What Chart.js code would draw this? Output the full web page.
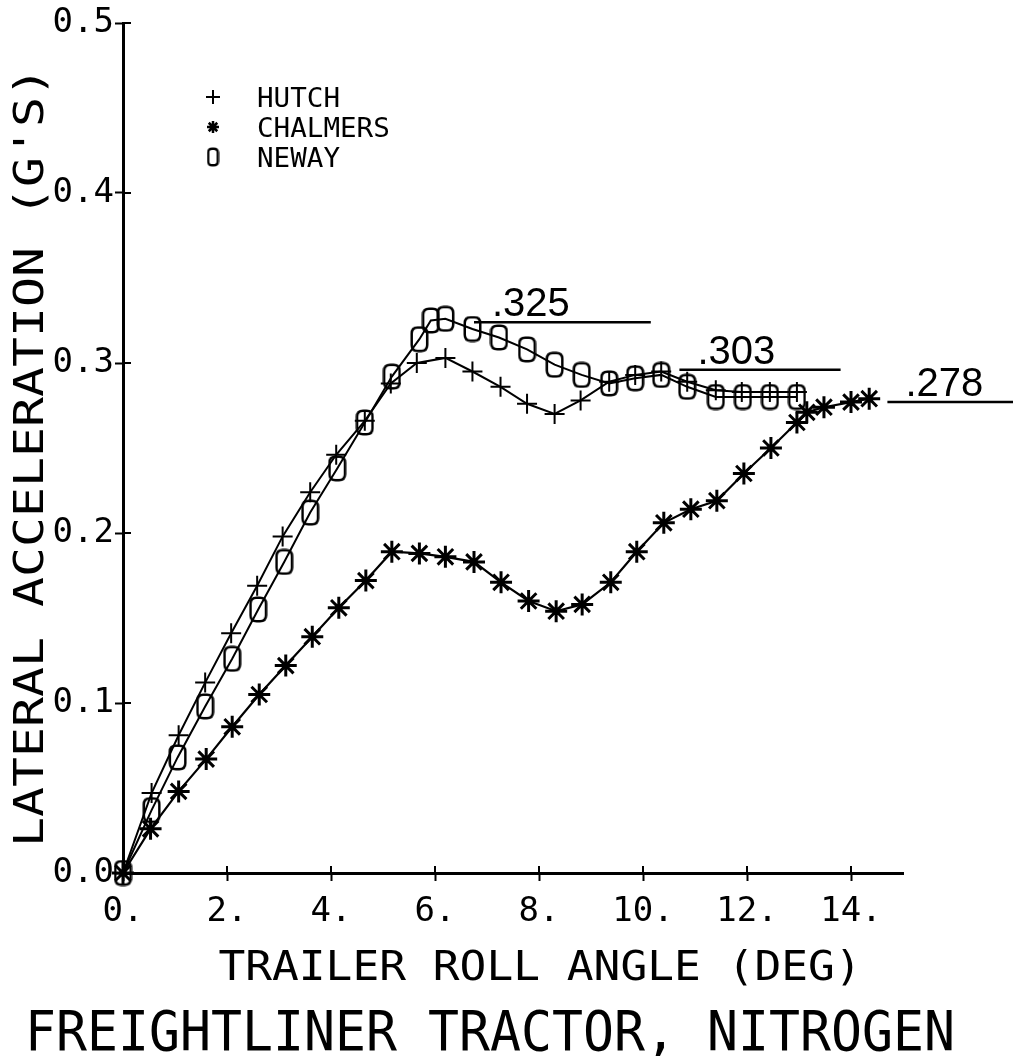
<!DOCTYPE html>
<html><head><meta charset="utf-8">
<script src="https://cdn.jsdelivr.net/npm/chart.js@4.4.1/dist/chart.umd.min.js"></script>
<style>html,body{margin:0;padding:0;background:#fff;}canvas{display:block;}</style>
</head><body>
<canvas id="c" width="1013" height="1056"></canvas>
<script>
// ---------- data ----------
const seriesNames = ['HUTCH', 'CHALMERS', 'NEWAY'];

const hutchX = [0, 0.55, 1.07, 1.58, 2.08, 2.58, 3.07, 3.6, 4.1, 4.65, 5.15, 5.65, 6.2, 6.72, 7.26, 7.77, 8.3, 8.8, 9.35, 9.85, 10.35, 10.85, 11.4, 11.9, 12.44, 12.96];
const hutchY = [0, 0.047, 0.081, 0.112, 0.141, 0.169, 0.198, 0.224, 0.246, 0.266, 0.288, 0.300, 0.303, 0.295, 0.286, 0.276, 0.270, 0.278, 0.289, 0.293, 0.295, 0.289, 0.284, 0.283, 0.283, 0.283];

const chalmersX = [0, 0.53, 1.07, 1.6, 2.1, 2.62, 3.13, 3.64, 4.15, 4.67, 5.17, 5.7, 6.2, 6.75, 7.27, 7.8, 8.33, 8.83, 9.38, 9.88, 10.4, 10.92, 11.42, 11.94, 12.46, 12.96, 13.15, 13.48, 14.0, 14.35];
const chalmersY = [0, 0.026, 0.048, 0.067, 0.086, 0.105, 0.122, 0.139, 0.156, 0.172, 0.189, 0.188, 0.186, 0.183, 0.171, 0.160, 0.154, 0.158, 0.171, 0.189, 0.206, 0.214, 0.219, 0.235, 0.250, 0.265, 0.271, 0.274, 0.277, 0.279];

const newayX = [0, 0.55, 1.05, 1.58, 2.1, 2.6, 3.1, 3.6, 4.12, 4.65, 5.17, 5.7, 5.92, 6.2, 6.72, 7.23, 7.77, 8.3, 8.82, 9.35, 9.85, 10.35, 10.85, 11.4, 11.92, 12.44, 12.96];
const newayY = [0, 0.037, 0.068, 0.098, 0.126, 0.155, 0.183, 0.212, 0.238, 0.265, 0.292, 0.314, 0.325, 0.326, 0.320, 0.315, 0.308, 0.299, 0.293, 0.288, 0.291, 0.293, 0.286, 0.280, 0.280, 0.280, 0.280];

const xTickValues = [0, 2, 4, 6, 8, 10, 12, 14];
const xTickLabels = ['0.', '2.', '4.', '6.', '8.', '10.', '12.', '14.'];
const yTickValues = [0, 0.1, 0.2, 0.3, 0.4, 0.5];
const yTickLabels = ['0.0', '0.1', '0.2', '0.3', '0.4', '0.5'];

const xTitle = 'TRAILER ROLL ANGLE (DEG)';
const yTitle = "LATERAL ACCELERATION (G'S)";
const caption = 'FREIGHTLINER TRACTOR, NITROGEN';

const noteLabels = ['.325', '.303', '.278'];
const noteValues = [0.324, 0.296, 0.277];
const noteFrom = [6.75, 10.7, 14.7];
const noteTo = [10.15, 13.8, 17.3];

// ---------- helpers ----------
const MONO = '"DejaVu Sans Mono", monospace';
function pts(xs, ys) { return xs.map((x, i) => ({ x: x, y: ys[i] })); }
function makeBox(w, h, lw, r) {
  const c = document.createElement('canvas');
  c.width = w; c.height = h;
  const g = c.getContext('2d');
  g.lineWidth = lw; g.strokeStyle = '#000';
  const x0 = lw / 2 + 0.5, y0 = lw / 2 + 0.5, x1 = w - lw / 2 - 0.5, y1 = h - lw / 2 - 0.5;
  g.beginPath();
  g.moveTo(x0 + r, y0); g.lineTo(x1 - r, y0); g.quadraticCurveTo(x1, y0, x1, y0 + r);
  g.lineTo(x1, y1 - r); g.quadraticCurveTo(x1, y1, x1 - r, y1);
  g.lineTo(x0 + r, y1); g.quadraticCurveTo(x0, y1, x0, y1 - r);
  g.lineTo(x0, y0 + r); g.quadraticCurveTo(x0, y0, x0 + r, y0);
  g.closePath(); g.stroke();
  return c;
}
// draw monospaced plotter-like text with given cap height and char advance
function drawMono(ctx, text, x, y, capH, adv, align, rot) {
  const size = capH / 0.729;
  ctx.save();
  ctx.font = size + 'px ' + MONO;
  const natural = ctx.measureText('M').width;
  ctx.translate(x, y);
  if (rot) ctx.rotate(rot);
  ctx.scale(adv / natural, 1);
  ctx.textAlign = align || 'center';
  ctx.textBaseline = 'alphabetic';
  ctx.fillStyle = '#000';
  ctx.fillText(text, 0, capH / 2);
  ctx.restore();
}

const boxImg = makeBox(19, 27, 2.5, 6);
const legendBoxImg = makeBox(13, 20, 2.4, 4);
const pointStyles = ['cross', 'star', boxImg];
const legendStyles = ['cross', 'star', legendBoxImg];

// ---------- plugins ----------
const decorations = {
  id: 'decorations',
  afterDraw(chart) {
    const ctx = chart.ctx, xs = chart.scales.x, ys = chart.scales.y, a = chart.chartArea;
    ctx.save();
    ctx.strokeStyle = '#000';
    ctx.lineWidth = 2;
    // inner halves of ticks (plotter ticks cross the axis)
    xTickValues.forEach(v => {
      const px = xs.getPixelForValue(v);
      ctx.beginPath(); ctx.moveTo(px, a.bottom); ctx.lineTo(px, a.bottom - 7); ctx.stroke();
    });
    yTickValues.forEach(v => {
      const py = ys.getPixelForValue(v);
      ctx.beginPath(); ctx.moveTo(a.left, py); ctx.lineTo(a.left + 8, py); ctx.stroke();
    });
    // value notes
    ctx.lineWidth = 2.5;
    noteLabels.forEach((t, i) => {
      const x0 = xs.getPixelForValue(noteFrom[i]), x1 = xs.getPixelForValue(noteTo[i]);
      const py = ys.getPixelForValue(noteValues[i]);
      ctx.beginPath(); ctx.moveTo(x0, py); ctx.lineTo(x1, py); ctx.stroke();
      ctx.font = '40px "Liberation Sans", sans-serif';
      ctx.fillStyle = '#000';
      ctx.textAlign = 'left';
      ctx.textBaseline = 'alphabetic';
      ctx.fillText(t, x0 + 18, py - 6);
    });
    // legend
    seriesNames.forEach((name, i) => {
      const ly = 97 + i * 30;
      ctx.lineWidth = i === 1 ? 2.5 : 2;
      ctx.strokeStyle = '#000'; ctx.fillStyle = '#000';
      Chart.helpers.drawPoint(ctx, { pointStyle: legendStyles[i], radius: i === 1 ? 6 : 7, borderWidth: ctx.lineWidth, rotation: 0 }, 213, ly);
      drawMono(ctx, name, 257, ly, 19, 16.6, 'left', 0);
    });
    // titles
    drawMono(ctx, yTitle, 28, 457, 30, 30, 'center', -Math.PI / 2);
    drawMono(ctx, xTitle, 540, 965, 30, 26.8, 'center', 0);
    drawMono(ctx, caption, 490, 1030, 40, 31, 'center', 0);
    ctx.restore();
  }
};

// ---------- chart ----------
const lineCommon = { borderColor: '#000', backgroundColor: 'rgba(0,0,0,0)', pointBorderColor: '#000', pointBackgroundColor: 'rgba(0,0,0,0)', tension: 0, fill: false, clip: false };
new Chart(document.getElementById('c').getContext('2d'), {
  type: 'line',
  data: {
    datasets: [
      Object.assign({ label: seriesNames[0], data: pts(hutchX, hutchY), pointStyle: pointStyles[0], pointRadius: 10, pointBorderWidth: 2, borderWidth: 2 }, lineCommon),
      Object.assign({ label: seriesNames[1], data: pts(chalmersX, chalmersY), pointStyle: pointStyles[1], pointRadius: 11, pointBorderWidth: 3, borderWidth: 2.2 }, lineCommon),
      Object.assign({ label: seriesNames[2], data: pts(newayX, newayY), pointStyle: pointStyles[2], pointRadius: 10, pointBorderWidth: 2, borderWidth: 2 }, lineCommon)
    ]
  },
  options: {
    responsive: false,
    animation: false,
    devicePixelRatio: 1,
    events: [],
    layout: { padding: { left: 0, top: 23, right: 110, bottom: 0 } },
    plugins: { legend: { display: false }, tooltip: { enabled: false }, title: { display: false } },
    scales: {
      x: {
        type: 'linear', min: 0, max: 15,
        afterBuildTicks: s => { s.ticks = xTickValues.map(v => ({ value: v })); },
        afterFit: s => { s.height = 183; },
        ticks: { callback: v => xTickLabels[xTickValues.indexOf(v)], font: { family: MONO, size: 34 }, color: '#000', padding: 11, maxRotation: 0, autoSkip: false },
        grid: { drawOnChartArea: false, drawTicks: true, tickLength: 8, tickWidth: 2, tickColor: '#000' },
        border: { display: true, color: '#000', width: 3 }
      },
      y: {
        type: 'linear', min: 0, max: 0.5,
        afterBuildTicks: s => { s.ticks = yTickValues.map(v => ({ value: v })); },
        afterFit: s => { s.width = 123; },
        ticks: { callback: v => yTickLabels[yTickValues.indexOf(v)], font: { family: MONO, size: 34 }, color: '#000', padding: 1, autoSkip: false },
        grid: { drawOnChartArea: false, drawTicks: true, tickLength: 8, tickWidth: 2, tickColor: '#000' },
        border: { display: true, color: '#000', width: 3 }
      }
    }
  },
  plugins: [decorations]
});
</script>
</body></html>
